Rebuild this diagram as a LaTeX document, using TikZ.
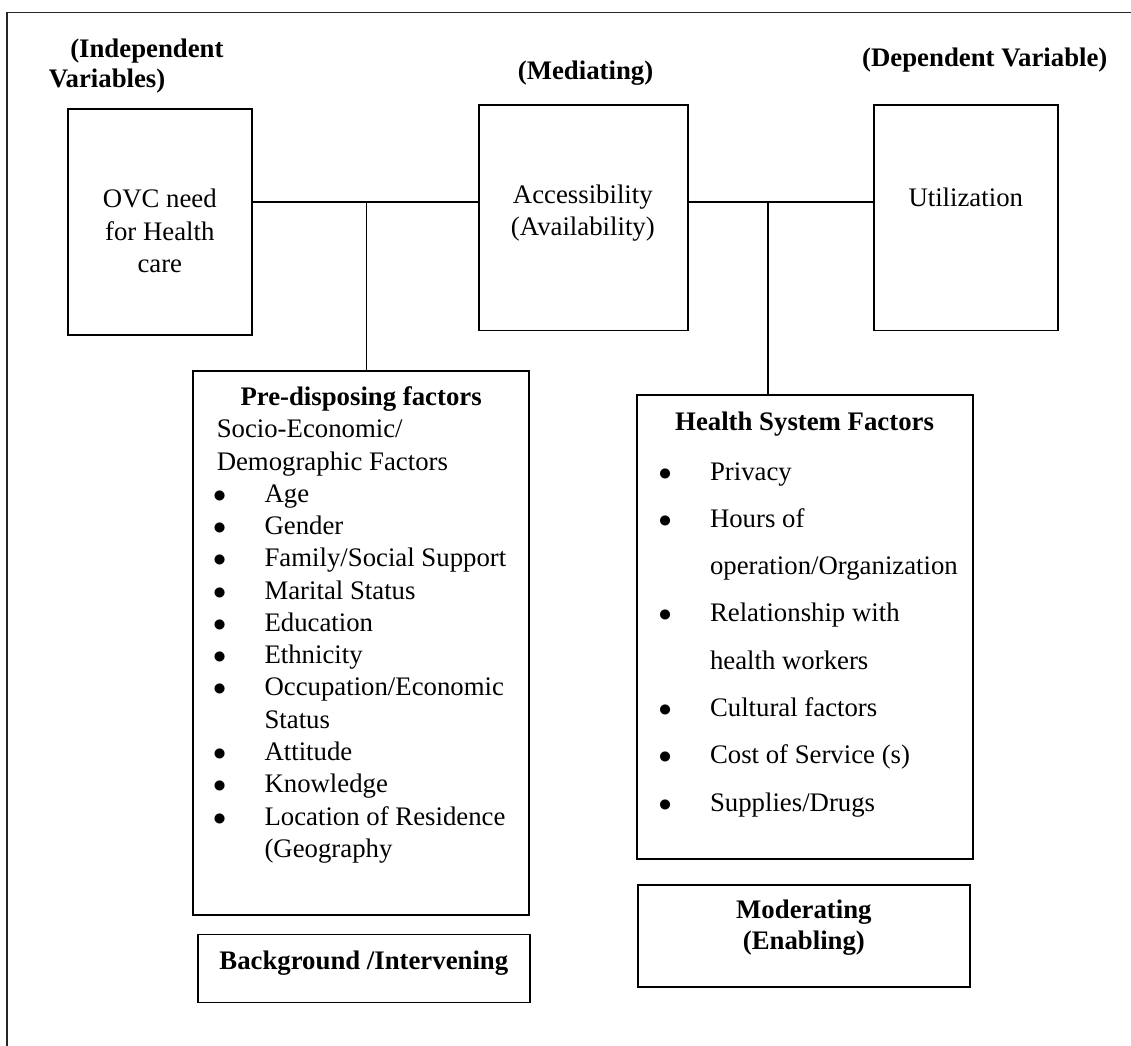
\documentclass[tikz,border=0pt,12pt]{standalone}
\usepackage{fontspec}
\setmainfont{Liberation Serif}
\newcommand{\itm}{\makebox[20pt][l]{\hspace*{-1.5pt}$\bullet$}}
\newcommand{\cont}{\hspace*{20pt}}

\begin{document}
\begin{tikzpicture}[
    box/.style={draw, line width=0.8pt, inner sep=0pt},
    link/.style={line width=0.6pt},
    head/.style={font=\fontsize{11.2}{12.6}\selectfont\bfseries, align=center},
    txt/.style={font=\fontsize{11.2}{13.6}\selectfont, align=center},
    lst/.style={anchor=north west, inner sep=0pt, align=left}
  ]
  \useasboundingbox (0,0) rectangle (16.63,-15.38);

  % Outer frame (top and left only)
  \draw[line width=0.6pt, black!85] (0.10,-15.38) -- (0.10,-0.18) -- (16.63,-0.18);

  % Column headings
  \node[head, align=left, anchor=west, inner sep=0pt] (indep) at (0.71,-0.97) {\hspace*{9pt}(Independent\\Variables)};
  \node[head] (medi) at (8.61,-1.08) {(Mediating)};
  \node[head] (depe) at (14.48,-0.88) {(Dependent Variable)};

  % Main variables
  \node[box, minimum width=2.70cm, minimum height=3.32cm] (ovc) at (2.35,-3.26) {};
  \node[txt] (ovctxt) at (2.35,-3.40) {OVC need\\for Health\\care};
  \node[box, minimum width=3.07cm, minimum height=3.32cm] (acc) at (8.58,-3.20) {};
  \node[txt] (acctxt) at (8.57,-3.13) {Accessibility\\(Availability)};
  \node[box, minimum width=2.70cm, minimum height=3.32cm] (util) at (14.20,-3.20) {};
  \node[txt] (utiltxt) at (14.20,-2.90) {Utilization};

  % Pre-disposing factors
  \node[box, minimum width=4.94cm, minimum height=8.00cm] (pre) at (5.31,-9.45) {};
  \node[txt, font=\fontsize{11.2}{13.6}\selectfont\bfseries] (pretitle) at (5.31,-5.86) {Pre-disposing factors};
  \node[lst, font=\fontsize{11.2}{13.5}\selectfont] (prelist) at (3.18,-6.17) {Socio-Economic/\\Demographic Factors\\\itm Age\\\itm Gender\\\itm Family/Social Support\\\itm Marital Status\\\itm Education\\\itm Ethnicity\\\itm Occupation/Economic\\\cont Status\\\itm Attitude\\\itm Knowledge\\\itm Location of Residence\\\cont (Geography};

  % Health system factors
  \node[box, minimum width=4.94cm, minimum height=6.82cm] (hsf) at (11.83,-9.22) {};
  \node[txt, font=\fontsize{11.2}{13.6}\selectfont\bfseries] (hsftitle) at (11.83,-6.23) {Health System Factors};
  \node[lst, font=\fontsize{11.2}{19.8}\selectfont] (hsflist) at (9.73,-6.79) {\itm Privacy\\\itm Hours of\\\cont operation/Organization\\\itm Relationship with\\\cont health workers\\\itm Cultural factors\\\itm Cost of Service (s)\\\itm Supplies/Drugs};

  % Bottom labels
  \node[box, minimum width=4.88cm, minimum height=1.50cm] (mod) at (11.82,-13.76) {};
  \node[head] (modtxt) at (11.82,-13.64) {Moderating\\(Enabling)};
  \node[box, minimum width=4.88cm, minimum height=1.00cm] (bg) at (5.35,-14.24) {};
  \node[head] (bgtxt) at (5.35,-14.16) {Background /Intervening};

  % Connectors
  \coordinate (j1) at (5.39,-2.97);
  \coordinate (j2) at (11.29,-2.97);
  \draw[link] (ovc.east |- j1) -- (acc.west |- j1);
  \draw[link] (j1) -- (j1 |- pre.north);
  \draw[link] (acc.east |- j2) -- (util.west |- j2);
  \draw[link] (j2) -- (j2 |- hsf.north);
\end{tikzpicture}
\end{document}
